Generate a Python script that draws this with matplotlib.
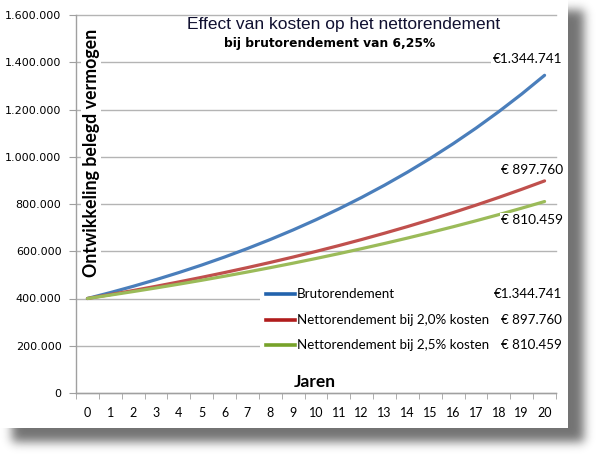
import numpy as np
import matplotlib
matplotlib.use("Agg")
import matplotlib.pyplot as plt
from matplotlib.patches import Rectangle
from matplotlib.lines import Line2D

# ---- data ----
jaren = list(range(0, 21))
bruto = [400000, 425000, 451600, 479800, 509800, 541600, 575500, 611500, 649700, 690300,
         733400, 779300, 828000, 879700, 934700, 993100, 1055200, 1121100, 1191200, 1265600, 1344741]
netto_20 = [400000, 416500, 433700, 451600, 470200, 489600, 509800, 530800, 552700, 575500,
            599300, 624000, 649700, 676500, 704400, 733500, 763700, 795200, 828000, 862200, 897760]
netto_25 = [400000, 414400, 429300, 444700, 460700, 477200, 494400, 512200, 530600, 549600,
            569400, 589900, 611100, 633000, 655800, 679300, 703700, 729000, 755200, 782400, 810459]
series_names = ["Brutorendement", "Nettorendement bij 2,0% kosten", "Nettorendement bij 2,5% kosten"]
eind_labels = ["\u20ac1.344.741", "\u20ac 897.760", "\u20ac 810.459"]
y_ticks = [0, 200000, 400000, 600000, 800000, 1000000, 1200000, 1400000, 1600000]
y_ticklabels = ["0", "200.000", "400.000", "600.000", "800.000", "1.000.000", "1.200.000", "1.400.000", "1.600.000"]
titel = "Effect van kosten op het nettorendement"
subtitel = "bij brutorendement van 6,25%"
y_titel = "Ontwikkeling belegd vermogen"
x_titel = "Jaren"

W, H = 600, 455
fig = plt.figure(figsize=(W / 100, H / 100), dpi=100)
fig.patch.set_facecolor("white")

def fx(px):
    return px / W

def fy(py):
    return 1 - py / H

# ---- drop shadow background ----
bg = fig.add_axes([0, 0, 1, 1], zorder=-5)
bg.set_axis_off()
def soft_step(n, a, b, sigma):
    v = np.zeros(n)
    v[a:b] = 1.0
    k = np.arange(-4 * sigma, 4 * sigma + 1)
    g = np.exp(-0.5 * (k / sigma) ** 2)
    g /= g.sum()
    return np.convolve(v, g, mode="same")
sx = soft_step(W, 12, 584, 5)
sy = soft_step(H, 10, 442, 5)
shadow = np.outer(sy, sx)
img = 1 - 0.55 * shadow
img[0:428, 0:568] = 1.0
bg.imshow(img, cmap="gray", vmin=0, vmax=1, extent=[0, 1, 0, 1], aspect="auto",
          interpolation="bilinear")
bg.set_xlim(0, 1)
bg.set_ylim(0, 1)

# ---- main axes ----
left, right, top, bottom = 76, 556, 15, 393
ax = fig.add_axes([fx(left), fy(bottom), (right - left) / W, (bottom - top) / H])
ax.set_facecolor("none")

line_colors = ["#4a7ebb", "#c0504d", "#9bbb59"]
legend_colors = ["#2363ad", "#b01c1c", "#77a22a"]
for vals, c in zip([bruto, netto_20, netto_25], line_colors):
    ax.plot(jaren, vals, color=c, lw=2.3, solid_capstyle="round", zorder=3)

ax.set_xlim(-0.5, 20.5)
ax.set_ylim(0, 1600000)
ax.set_yticks(y_ticks)
ax.set_yticklabels(y_ticklabels, fontsize=8, family="DejaVu Sans")
ax.set_xticks(jaren)
ax.set_xticklabels([str(j) for j in jaren], fontsize=9, family="Lato")
ax.set_xticks(np.arange(-0.5, 21, 1), minor=True)
ax.tick_params(axis="x", which="major", length=0, pad=10)
ax.tick_params(axis="x", which="minor", length=4, direction="out", color="#a0a0a0")
ax.tick_params(axis="y", which="major", length=5, direction="out", color="#a0a0a0", pad=5.5)
ax.grid(axis="y", color="#b4b4b4", lw=1.0, zorder=1)
for s in ["top", "right"]:
    ax.spines[s].set_visible(False)
for s in ["left", "bottom"]:
    ax.spines[s].set_color("#a0a0a0")
    ax.spines[s].set_linewidth(1.0)
for gl in ax.get_ygridlines():
    gl.set_clip_on(False)

# ---- titles ----
fig.text(fx(344), fy(25), titel, ha="center", va="center", fontsize=12.5,
         family="Liberation Sans", color="#101030")
fig.text(fx(330), fy(44), subtitel, ha="center", va="center", fontsize=8.8,
         family="DejaVu Sans", weight="bold", color="black")
fig.text(fx(91), fy(153), y_titel, ha="center", va="center", rotation=90, fontsize=12.8,
         family="Lato", weight="bold", color="black",
         bbox=dict(facecolor="white", edgecolor="none", pad=1))
fig.text(fx(315), fy(382), x_titel, ha="center", va="center", fontsize=12.5,
         family="Lato", weight="bold", color="black")

# ---- end value labels ----
end_pos = [(562, 59), (563, 170), (563, 220)]
for lab, (px, py) in zip(eind_labels, end_pos):
    fig.text(fx(px), fy(py), lab, ha="right", va="center", fontsize=9.8, family="Lato",
             color="black", bbox=dict(facecolor="white", edgecolor="none", pad=1))

# ---- legend block ----
fig.patches.append(Rectangle((fx(260), fy(358)), (566 - 260) / W, (358 - 284) / H,
                             transform=fig.transFigure, facecolor="white", edgecolor="none",
                             zorder=1))
rows = [294, 320, 345]
for name, val, c, py in zip(series_names, eind_labels, legend_colors, rows):
    fig.lines.append(Line2D([fx(266), fx(295)], [fy(py), fy(py)], transform=fig.transFigure,
                            color=c, lw=2.6, zorder=2))
    fig.text(fx(297), fy(py), name, ha="left", va="center", fontsize=9.6, family="Lato",
             color="black", zorder=3)
    fig.text(fx(562), fy(py), val, ha="right", va="center", fontsize=9.6, family="Lato",
             color="black", zorder=3)

fig.savefig("out.png", dpi=100)
